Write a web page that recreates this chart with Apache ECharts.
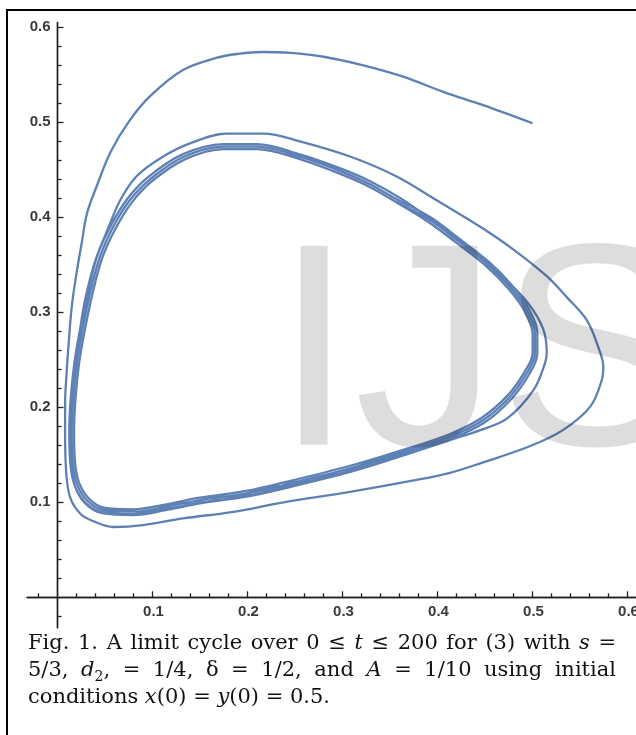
<!DOCTYPE html>
<html><head><meta charset="utf-8">
<script src="https://cdn.jsdelivr.net/npm/echarts@6/dist/echarts.min.js"></script>
<style>html,body{margin:0;padding:0;background:#fff}#c{width:636px;height:735px}</style>
</head><body><div id="c"></div>
<script>
// ---- data (x, y) ----
const outerLoop = [
[0.500,0.499],[0.448,0.518],[0.406,0.532],[0.364,0.548],[0.322,0.560],[0.280,0.569],[0.245,0.573],
[0.215,0.574],[0.190,0.572],[0.168,0.568],[0.132,0.555],[0.098,0.528],[0.076,0.502],[0.056,0.469],
[0.041,0.432],[0.031,0.404],[0.0255,0.373],[0.020,0.341],[0.015,0.306],[0.0115,0.264],[0.0095,0.235],
[0.008,0.205],[0.008,0.176],[0.009,0.134],[0.013,0.106],[0.024,0.088],[0.038,0.080],[0.059,0.074],
[0.090,0.076],[0.132,0.083],[0.185,0.090],[0.238,0.100],[0.308,0.111],[0.375,0.123],[0.413,0.131],
[0.445,0.141],[0.497,0.159],[0.532,0.176],[0.561,0.201],[0.573,0.229],[0.5745,0.243],[0.569,0.264],
[0.557,0.292],[0.536,0.316],[0.515,0.338],[0.480,0.366],[0.445,0.390],[0.399,0.418],[0.357,0.443]
];
const secondLoop = [
[0.308,0.464],[0.255,0.480],[0.217,0.488],[0.178,0.488],[0.140,0.478],[0.108,0.462],[0.083,0.443],
[0.066,0.418],[0.054,0.390],[0.040,0.355],[0.029,0.313],[0.0225,0.274],[0.018,0.246],[0.0148,0.211],
[0.0133,0.176],[0.014,0.141],[0.018,0.118],[0.0285,0.0995],[0.047,0.0885],[0.080,0.0865],[0.115,0.092],
[0.150,0.099],[0.199,0.106],[0.238,0.1145],[0.308,0.132],[0.360,0.148],[0.413,0.1655],[0.445,0.176],
[0.473,0.188],[0.501,0.218],[0.513,0.246],[0.515,0.258],[0.511,0.283],[0.495,0.310],[0.470,0.336],
[0.440,0.362],[0.412,0.383]
];
const thirdLoop = [
[0.394,0.397],[0.361,0.420],[0.327,0.439],[0.295,0.4525],[0.256,0.466],[0.2097,0.477],[0.1745,0.477],[0.131,0.466],
[0.095,0.442],[0.074,0.420],[0.0565,0.392],[0.042,0.360],[0.032,0.321],[0.023,0.278],[0.0177,0.2463],
[0.0141,0.2112],[0.0124,0.1761],[0.0135,0.141],[0.018,0.118],[0.029,0.100],[0.0475,0.0895],[0.0798,0.0876],
[0.1153,0.093],[0.1505,0.100],[0.1996,0.107],[0.2383,0.1158],[0.3086,0.1334],[0.3613,0.1493],[0.4145,0.1668],
[0.4502,0.1845],[0.4785,0.2096],[0.4963,0.2345],[0.5051,0.2564],[0.5051,0.2785],[0.4962,0.3035],
[0.4783,0.3285],[0.4535,0.3535],[0.4218,0.3782],[0.3938,0.3993]
];
const fourthLoop = [
[0.359,0.418],[0.3255,0.4365],[0.2939,0.4502],[0.2553,0.4638],[0.2097,0.4743],[0.1745,0.4743],[0.1324,0.4635],
[0.0974,0.440],[0.0763,0.4182],[0.0587,0.3901],[0.0447,0.3585],[0.0342,0.320],[0.0255,0.2779],[0.0202,0.2463],
[0.0166,0.2112],[0.0149,0.1761],[0.016,0.1411],[0.0202,0.120],[0.0307,0.1024],[0.0482,0.0919],[0.0798,0.0901],
[0.1149,0.0954],[0.150,0.1024],[0.1992,0.1095],[0.2377,0.1182],[0.3079,0.1358],[0.3605,0.1516],[0.4132,0.1691],
[0.4482,0.1866],[0.4763,0.2112],[0.4939,0.2358],[0.5026,0.2568],[0.5026,0.2779],[0.4939,0.3024],
[0.4763,0.3269],[0.4518,0.3516],[0.4202,0.3762],[0.3921,0.3972]
];
const limitCycle = [
[0.357,0.416],[0.3245,0.434],[0.293,0.4475],[0.255,0.4613],[0.2097,0.4718],[0.1745,0.4718],[0.134,0.461],
[0.0995,0.438],[0.0785,0.416],[0.061,0.388],[0.047,0.357],[0.0367,0.319],[0.028,0.2775],[0.0227,0.2463],
[0.0191,0.2112],[0.0174,0.1761],[0.0185,0.1415],[0.0224,0.1215],[0.0325,0.1045],[0.049,0.0943],[0.0798,0.0926],
[0.1145,0.0978],[0.1495,0.1048],[0.1988,0.112],[0.2371,0.1206],[0.3072,0.1382],[0.3597,0.1539],[0.412,0.1714],
[0.4462,0.1887],[0.4741,0.2128],[0.4915,0.2371],[0.5001,0.2572],[0.5001,0.2773],[0.4916,0.3013],
[0.4743,0.3253],[0.4501,0.3497],[0.4186,0.3742],[0.3904,0.3951],[0.356,0.416]
];
const xTickLabels = [0.1,0.2,0.3,0.4,0.5,0.6];
const yTickLabels = [0.1,0.2,0.3,0.4,0.5,0.6];
const xMinorTicks = [-0.02,0.02,0.04,0.06,0.08,0.12,0.14,0.16,0.18,0.22,0.24,0.26,0.28,0.32,0.34,0.36,0.38,0.42,0.44,0.46,0.48,0.52,0.54,0.56,0.58,0.62];
const yMinorTicks = [-0.02,0.02,0.04,0.06,0.08,0.12,0.14,0.16,0.18,0.22,0.24,0.26,0.28,0.32,0.34,0.36,0.38,0.42,0.44,0.46,0.48,0.52,0.54,0.56,0.58];
const watermarkText = 'IJS';
const captionLines = [
  {justify:true, words:[[['Fig.','']],[['1.','']],[['A','']],[['limit','']],[['cycle','']],[['over','']],[['0','']],[['≤','']],[['t','i']],[['≤','']],[['200','']],[['for','']],[['(3)','']],[['with','']],[['s','i']],[['=','']]]},
  {justify:true, words:[[['5/3,','']],[['d','i'],['2','sub'],[',','']],[['=','']],[['1/4,','']],[['δ','']],[['=','']],[['1/2,','']],[['and','']],[['A','i']],[['=','']],[['1/10','']],[['using','']],[['initial','']]]},
  {justify:false, words:[[['conditions','']],[['x','i'],['(0)','']],[['=','']],[['y','i'],['(0)','']],[['=','']],[['0.5.','']]]}
];

// ---- layout ----
const X0PX = 57.5, Y0PX = 597.3, SCALE = 950;
const xMin = -0.032, xMax = 0.64, yMin = -0.032, yMax = 0.605;
const W = 636, H = 735;
const gridLeft = X0PX + SCALE * xMin;
const gridRight = W - (X0PX + SCALE * xMax);
const gridTop = Y0PX - SCALE * yMax;
const gridBottom = H - (Y0PX - SCALE * yMin);

const trajectory = outerLoop.concat(secondLoop, thirdLoop, fourthLoop, limitCycle);

const axisColor = '#222';
function mkAxis(kind, major) {
  const isX = kind === 'x';
  return {
    type:'value', min: isX?xMin:yMin, max: isX?xMax:yMax, position: isX?'bottom':'left', gridIndex:0,
    axisLine:{show:true, onZero:true, onZeroAxisIndex:0, lineStyle:{color:axisColor, width:1.4}},
    axisTick:{show:true, inside:true, length: major?6:4,
      customValues: major ? (isX?xTickLabels:yTickLabels) : (isX?xMinorTicks:yMinorTicks),
      lineStyle:{color:axisColor, width:1.3}},
    axisLabel:{show:false},
    splitLine:{show:false}, minorTick:{show:false}
  };
}

// caption layout (text measurement only)
const capFamily = "'DejaVu Serif', serif";
const capSize = 21, subSize = 14;
const capLeft = 28, capRight = 616;
const baselines = [651, 678, 705];
const mctx = document.createElement('canvas').getContext('2d');
function runFont(st){ const sz = st==='sub'?subSize:capSize; return (st==='i'?'italic ':'') + sz + 'px ' + capFamily; }
function runW(r){ mctx.font = runFont(r[1]); return mctx.measureText(r[0]).width; }
const captionEls = [];
captionLines.forEach((ln, li) => {
  const ww = ln.words.map(w => w.reduce((s,r)=>s+runW(r),0));
  const tot = ww.reduce((a,b)=>a+b,0);
  mctx.font = runFont('');
  const sp = mctx.measureText(' ').width;
  const gap = ln.justify ? (capRight - capLeft - tot) / (ln.words.length - 1) : sp;
  let x = capLeft;
  ln.words.forEach((w) => {
    w.forEach(r => {
      const sub = r[1]==='sub';
      const sz = sub?subSize:capSize;
      const base = baselines[li] + (sub?4:0);
      captionEls.push({type:'text', x:x, y: base - 0.36*sz, z:60, silent:true,
        style:{text:r[0], fontSize:sz, fontFamily:capFamily, fontStyle: r[1]==='i'?'italic':'normal', fill:'#111', verticalAlign:'middle', align:'left'}});
      x += runW(r);
    });
    x += gap;
  });
});

const chart = echarts.init(document.getElementById('c'), null, {renderer:'canvas', width:W, height:H});
chart.setOption({
  animation:false,
  backgroundColor:'#fff',
  grid:{left:gridLeft, right:gridRight, top:gridTop, bottom:gridBottom, containLabel:false, outerBoundsMode:'none'},
  xAxis:[mkAxis('x', true), mkAxis('x', false)],
  yAxis:[mkAxis('y', true), mkAxis('y', false)],
  series:[{type:'line', data:trajectory, xAxisIndex:0, yAxisIndex:0, showSymbol:false, symbol:'none', smooth:0.35,
    clip:false, lineStyle:{color:'#5e81b5', width:2.3}, z:2}]
});

// tick labels placed through the axis scales
const tickFont = {fontSize:15, fontWeight:'bold', fontFamily:"'Liberation Sans', Arial, sans-serif", fill:'#3a3a3a'};
const labelEls = [];
xTickLabels.forEach(v => {
  const p = chart.convertToPixel({gridIndex:0}, [v, 0]);
  labelEls.push({type:'text', x:p[0]+1, y:p[1]+15, z:60, silent:true,
    style:Object.assign({text:v.toFixed(1), align:'center', verticalAlign:'middle'}, tickFont)});
});
yTickLabels.forEach(v => {
  const p = chart.convertToPixel({gridIndex:0}, [0, v]);
  labelEls.push({type:'text', x:p[0]-7, y:p[1], z:60, silent:true,
    style:Object.assign({text:v.toFixed(1), align:'right', verticalAlign:'middle'}, tickFont)});
});

chart.setOption({
  graphic:[
    {type:'text', x:274, y:365, z:50, silent:true, style:{text:watermarkText, fontSize:289, fontFamily:"'Liberation Sans', Arial, sans-serif", fill:'rgba(0,0,0,0.135)', verticalAlign:'middle', align:'left'}},
    {type:'line', z:60, silent:true, shape:{x1:6, y1:10, x2:640, y2:10}, style:{stroke:'#000', lineWidth:2}},
    {type:'line', z:60, silent:true, shape:{x1:7, y1:9, x2:7, y2:740}, style:{stroke:'#000', lineWidth:2}}
  ].concat(labelEls, captionEls)
});
</script>
</body></html>
